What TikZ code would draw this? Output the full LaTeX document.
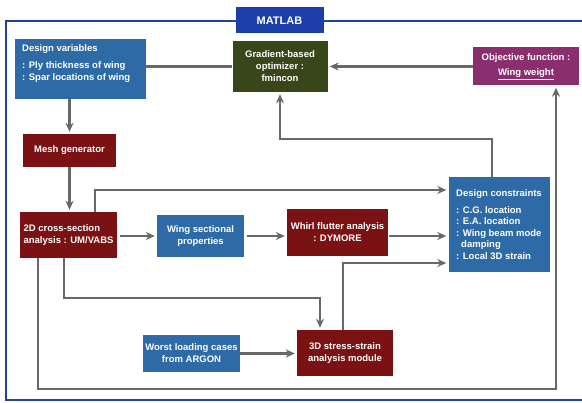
\documentclass[tikz,border=0pt]{standalone}
\usepackage{fontspec}
\setmainfont{Liberation Sans}
\usetikzlibrary{arrows.meta}
\definecolor{boxblue}{RGB}{46,106,166}
\definecolor{boxred}{RGB}{122,18,20}
\definecolor{boxgreen}{RGB}{56,70,26}
\definecolor{boxpurple}{RGB}{138,46,110}
\definecolor{frameblue}{RGB}{34,66,160}
\definecolor{labelblue}{RGB}{28,62,168}
\definecolor{conngray}{RGB}{104,104,104}
\begin{document}
\begin{tikzpicture}[x=1pt,y=-1pt,
  box/.style={draw=none, text=white, inner sep=0pt, align=center,
    font=\bfseries\fontsize{9.5}{12}\selectfont},
  wtxt/.style={text=white, inner sep=0pt,
    font=\bfseries\fontsize{9.5}{12}\selectfont},
  conn/.style={draw=conngray, line width=2.3pt},
  arr/.style={conn, -{Stealth[length=9pt,width=8pt]}, shorten >=2pt}]
\useasboundingbox (0,0) rectangle (582,403);
\clip (0,0) rectangle (582,403);
\fill[white] (0,0) rectangle (582,403);
\draw[frameblue, line width=2.4pt] (6,21) rectangle (610,400);

% nodes
\node[box, fill=labelblue, minimum width=88, minimum height=26,
  font=\bfseries\fontsize{11}{13}\selectfont] (matlab) at (279.5,20.5) {MATLAB};
\node[box, fill=boxblue, minimum width=131, minimum height=60] (dv) at (80.5,69) {};
\node[wtxt, anchor=north west, align=left] (dvtext) at (22,44.5)
  {Design variables\\[5pt]: Ply thickness of wing\\: Spar locations of wing};
\node[box, fill=boxgreen, minimum width=95, minimum height=51] (opt) at (280,66.5)
  {Gradient-based\\optimizer :\\fmincon};
\node[box, fill=boxpurple, minimum width=106, minimum height=38] (obj) at (526,66.5)
  {Objective function :\\[3pt]\underline{Wing weight}};
\node[box, fill=boxred, minimum width=93, minimum height=33] (mesh) at (69.5,150.5)
  {Mesh generator};
\node[box, fill=boxred, minimum width=97, minimum height=46, align=left] (cs) at (68.5,235)
  {2D cross-section\\analysis : UM/VABS};
\node[box, fill=boxblue, minimum width=87, minimum height=42] (wsp) at (200.5,236)
  {Wing sectional\\properties};
\node[box, fill=boxred, minimum width=101, minimum height=47] (whirl) at (337.5,232.5)
  {Whirl flutter analysis\\: DYMORE};
\node[box, fill=boxblue, minimum width=101, minimum height=95, align=left,
  font=\bfseries\fontsize{9.5}{11.5}\selectfont] (dc) at (499,224.5)
  {Design constraints\\[5pt]: C.G. location\\: E.A. location\\: Wing beam mode\\\hspace*{5pt}damping\\: Local 3D strain};
\node[box, fill=boxred, minimum width=96, minimum height=46] (s3d) at (345,353)
  {3D stress-strain\\analysis module};
\node[box, fill=boxblue, minimum width=97, minimum height=37] (worst) at (191.5,353.5)
  {Worst loading cases\\from ARGON};

% helper coordinates
\coordinate (c1) at (95,190);
\coordinate (c2) at (492,139);
\coordinate (c3) at (64,298);
\coordinate (c4) at (343,263);
\coordinate (c5) at (38,389);
\coordinate (c6) at (556,389);
\coordinate (c7) at (320,298);

% connectors
\draw[conn] (dv.east |- opt.west) -- (opt.west);
\draw[arr] (obj.west) -- (opt.east);
\draw[arr] (dv.south -| mesh.north) -- (mesh.north);
\draw[arr] (mesh.south) -- (mesh.south |- cs.north);
\draw[arr, shorten <=3pt] (cs.east |- wsp.west) -- (wsp.west);
\draw[arr, shorten <=3pt] (wsp.east) -- (whirl.west |- wsp.east);
\draw[arr, shorten <=1pt] (whirl.east |- wsp.east) -- (dc.west |- wsp.east);
\draw[arr] (c1 |- cs.north) -- (c1) -- (c1 -| dc.west);
\draw[arr] (c2 |- dc.north) -- (c2) -| (opt.south);
\draw[arr] (c3 |- cs.south) -- (c3) -- (c7) -- (c7 |- s3d.north);
\draw[arr] (worst.east) -- (s3d.west |- worst.east);
\draw[arr] (c4 |- s3d.north) -- (c4) -- (c4 -| dc.west);
\draw[arr] (c5 |- cs.south) -- (c5) -- (c6) -- (c6 |- obj.south);
\end{tikzpicture}
\end{document}
